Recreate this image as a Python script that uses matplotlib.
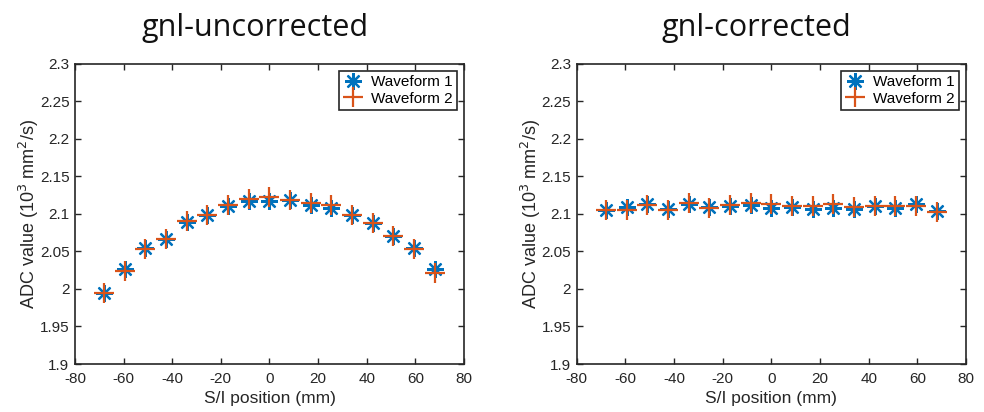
import numpy as np
import matplotlib
matplotlib.use("Agg")
import matplotlib.pyplot as plt

plt.rcParams["font.family"] = ["Liberation Sans", "DejaVu Sans"]
plt.rcParams["axes.unicode_minus"] = False

# slice positions along S/I (mm)
position = [-68, -59.5, -51, -42.5, -34, -25.5, -17, -8.5, 0,
            8.5, 17, 25.5, 34, 42.5, 51, 59.5, 68]

# mean ADC (10^3 mm^2/s), without gradient nonlinearity correction
uncorr_wf1 = [1.995, 2.026, 2.054, 2.067, 2.089, 2.098, 2.110, 2.117, 2.117,
              2.118, 2.112, 2.108, 2.099, 2.088, 2.071, 2.055, 2.026]
uncorr_wf2 = [1.995, 2.024, 2.053, 2.067, 2.090, 2.099, 2.112, 2.120, 2.123,
              2.118, 2.115, 2.112, 2.099, 2.088, 2.071, 2.053, 2.021]

# mean ADC with correction applied
corr_wf1 = [2.105, 2.109, 2.113, 2.106, 2.113, 2.109, 2.111, 2.112, 2.108,
            2.109, 2.107, 2.108, 2.107, 2.110, 2.108, 2.113, 2.104]
corr_wf2 = [2.105, 2.105, 2.112, 2.105, 2.114, 2.108, 2.112, 2.114, 2.113,
            2.111, 2.110, 2.113, 2.109, 2.111, 2.110, 2.111, 2.102]

titles = ["gnl-uncorrected", "gnl-corrected"]
blue = "#0072BD"
orange = "#D95319"

fig = plt.figure(figsize=(9.84, 4.12), dpi=100)
ax1 = fig.add_axes([0.0762, 0.1165, 0.3953, 0.7282])
ax2 = fig.add_axes([0.5861, 0.1165, 0.3956, 0.7282])

for ax, wf1, wf2 in [(ax1, uncorr_wf1, uncorr_wf2), (ax2, corr_wf1, corr_wf2)]:
    ax.plot(position, wf1, linestyle="none", marker=(8, 2, 0), markersize=12,
            markeredgewidth=1.6, color=blue, label="Waveform 1")
    ax.plot(position, wf2, linestyle="none", marker="+", markersize=14,
            markeredgewidth=1.6, color=orange, label="Waveform 2")
    ax.set_xlim(-80, 80)
    ax.set_ylim(1.9, 2.3)
    ax.set_xticks(np.arange(-80, 81, 20))
    ax.set_yticks([1.9, 1.95, 2.0, 2.05, 2.1, 2.15, 2.2, 2.25, 2.3])
    ax.set_yticklabels(["1.9", "1.95", "2", "2.05", "2.1", "2.15", "2.2", "2.25", "2.3"])
    ax.tick_params(direction="in", top=True, right=True, length=4, width=1,
                   labelsize=11, colors="#262626", labelcolor="#262626")
    ax.tick_params(axis="x", pad=6)
    ax.tick_params(axis="y", pad=4)
    for sp in ax.spines.values():
        sp.set_linewidth(1.2)
        sp.set_color("#262626")
    ax.set_xlabel("S/I position (mm)", fontsize=12.5, color="#262626", labelpad=3)
    ax.set_ylabel("ADC value (10$^3$ mm$^2$/s)", fontsize=13, color="#262626", labelpad=-1)
    leg = ax.legend(loc="upper right", fontsize=11, fancybox=False, framealpha=1,
                    edgecolor="#262626", borderpad=0.3, handlelength=1.3,
                    handletextpad=0.5, labelspacing=0.15, borderaxespad=0.45)
    leg.get_frame().set_linewidth(1.2)

# panel headings
fig.text(0.259, 0.932, titles[0], ha="center", va="center", fontsize=22,
         family=["Open Sans", "DejaVu Sans"], color="#111111")
fig.text(0.769, 0.932, titles[1], ha="center", va="center", fontsize=22,
         family=["Open Sans", "DejaVu Sans"], color="#111111")

fig.savefig("out.png", dpi=100)
